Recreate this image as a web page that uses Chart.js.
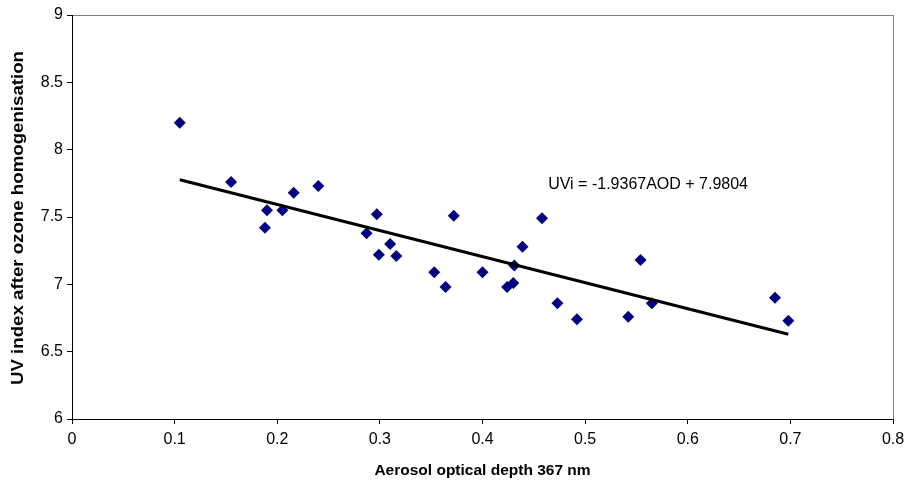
<!DOCTYPE html>
<html>
<head>
<meta charset="utf-8">
<script src="https://cdn.jsdelivr.net/npm/chart.js@4.4.0/dist/chart.umd.min.js"></script>
<style>
html,body{margin:0;padding:0;background:#fff;}
#wrap{width:905px;height:480px;position:relative;}
</style>
</head>
<body>
<div id="wrap"><canvas id="c"></canvas></div>
<script>
const aod = [0.105, 0.155, 0.190, 0.188, 0.205, 0.216, 0.240, 0.287, 0.297, 0.299, 0.310, 0.316,
             0.353, 0.364, 0.372, 0.400, 0.424, 0.430, 0.431, 0.439, 0.458, 0.473, 0.492, 0.542,
             0.554, 0.565, 0.685, 0.698];
const uvi = [8.20, 7.76, 7.55, 7.42, 7.55, 7.68, 7.73, 7.38, 7.52, 7.22, 7.30, 7.21,
             7.09, 6.98, 7.51, 7.09, 6.98, 7.01, 7.14, 7.28, 7.49, 6.86, 6.74, 6.76,
             7.18, 6.86, 6.90, 6.73];
// Linear trendline end points as drawn
const trendX = [0.105, 0.698];
const trendY = [7.777, 6.629];
const equationText = 'UVi = -1.9367AOD + 7.9804';
const xTicks = [0, 0.1, 0.2, 0.3, 0.4, 0.5, 0.6, 0.7, 0.8];
const yTicks = [6, 6.5, 7, 7.5, 8, 8.5, 9];
const xTitle = 'Aerosol optical depth 367 nm';
const yTitle = 'UV index after ozone homogenisation';

const FONT = "'Liberation Sans', Arial, sans-serif";

const points = aod.map((x, i) => ({x: x, y: uvi[i]}));
const trend = trendX.map((x, i) => ({x: x, y: trendY[i]}));

const framePlugin = {
  id: 'frame',
  beforeDraw(chart) {
    const {ctx, chartArea: a} = chart;
    ctx.save();
    ctx.strokeStyle = '#808080';
    ctx.lineWidth = 1;
    ctx.strokeRect(a.left + 0.5, a.top + 0.5, a.right - a.left, a.bottom - a.top);
    ctx.restore();
  }
};

const labelPlugin = {
  id: 'labels',
  afterDraw(chart) {
    const {ctx, chartArea: a} = chart;
    const xs = chart.scales.x, ys = chart.scales.y;
    ctx.save();
    ctx.fillStyle = '#000';
    ctx.font = '16px ' + FONT;
    ctx.textAlign = 'left';
    ctx.textBaseline = 'middle';
    ctx.fillText(equationText, xs.getPixelForValue(0.464), ys.getPixelForValue(7.74));
    ctx.font = 'bold 16px ' + FONT;
    ctx.textAlign = 'center';
    ctx.textBaseline = 'middle';
    const w = ctx.measureText(yTitle).width;
    const target = 334;
    ctx.translate(19, (a.top + a.bottom) / 2 + 1);
    ctx.rotate(-Math.PI / 2);
    ctx.scale(target / w, 1);
    ctx.fillText(yTitle, 0, 0);
    ctx.restore();
  }
};

new Chart(document.getElementById('c'), {
  type: 'scatter',
  data: {
    datasets: [
      {
        type: 'line',
        data: trend,
        borderColor: '#000',
        borderWidth: 3,
        pointRadius: 0,
        fill: false,
        showLine: true
      },
      {
        data: points,
        pointStyle: 'rectRot',
        pointRadius: 6,
        pointHoverRadius: 6,
        backgroundColor: '#000080',
        borderColor: '#000080',
        borderWidth: 0
      }
    ]
  },
  options: {
    responsive: true,
    maintainAspectRatio: false,
    animation: false,
    events: [],
    layout: {padding: {left: 0, right: 12, top: 15, bottom: 0}},
    plugins: {legend: {display: false}, tooltip: {enabled: false}},
    scales: {
      x: {
        type: 'linear',
        min: 0, max: 0.8,
        afterBuildTicks(s) { s.ticks = xTicks.map(v => ({value: v})); },
        afterFit(s) { s.height = 61; s.paddingLeft = 0; s.paddingRight = 0; },
        grid: {display: true, drawOnChartArea: false, drawTicks: true, tickLength: 5, color: '#000', tickColor: '#000'},
        border: {display: true, color: '#000', width: 1},
        ticks: {
          color: '#000', padding: 6, maxRotation: 0, autoSkip: false,
          font: {family: FONT, size: 16},
          callback: v => String(v)
        },
        title: {
          display: true, text: xTitle, color: '#000',
          font: {family: FONT, size: 15.5, weight: 'bold'},
          padding: {top: 0, bottom: 0}
        }
      },
      y: {
        type: 'linear',
        min: 6, max: 9,
        afterBuildTicks(s) { s.ticks = yTicks.map(v => ({value: v})); },
        afterFit(s) { s.width = 72; s.paddingTop = 0; s.paddingBottom = 0; },
        grid: {display: true, drawOnChartArea: false, drawTicks: true, tickLength: 5, color: '#000', tickColor: '#000'},
        border: {display: true, color: '#000', width: 1},
        ticks: {
          color: '#000', padding: 4, autoSkip: false,
          font: {family: FONT, size: 16},
          callback: v => String(v)
        }
      }
    }
  },
  plugins: [framePlugin, labelPlugin]
});
</script>
</body>
</html>
